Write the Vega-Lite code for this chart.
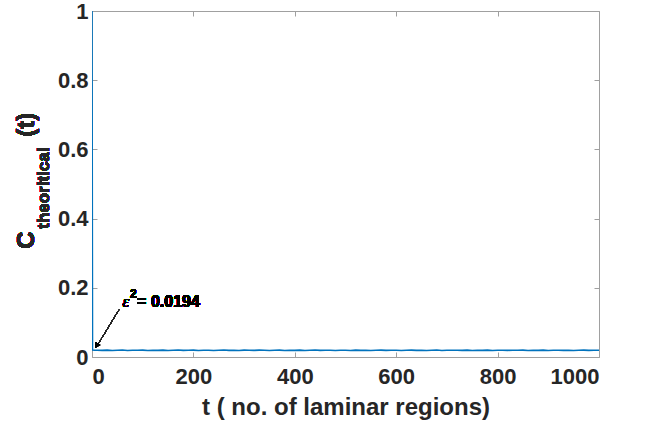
{
  "$schema": "https://vega.github.io/schema/vega-lite/v6.json",
  "width": 507,
  "height": 346,
  "autosize": {"type": "none"},
  "padding": {"left": 92, "top": 11, "right": 47, "bottom": 74},
  "background": "white",
  "config": {
    "font": "Liberation Sans",
    "view": {"stroke": null},
    "axis": {
      "domainColor": "#a0a0a0",
      "tickColor": "#a0a0a0",
      "grid": false,
      "labelFont": "Liberation Sans",
      "labelFontWeight": "bold",
      "labelFontSize": 22,
      "labelColor": "#262626",
      "titleFont": "Liberation Sans",
      "titleFontWeight": "bold",
      "titleFontSize": 24,
      "titleColor": "#262626"
    }
  },
  "data": {
    "values": [
      {"t": 0, "c": 1},
      {"t": 1, "c": 0.0201},
      {"t": 5, "c": 0.0193},
      {"t": 10, "c": 0.0196}, {"t": 20, "c": 0.0191}, {"t": 30, "c": 0.0199}, {"t": 40, "c": 0.0188}, {"t": 50, "c": 0.0195},
      {"t": 60, "c": 0.0202}, {"t": 70, "c": 0.0190}, {"t": 80, "c": 0.0197}, {"t": 90, "c": 0.0193}, {"t": 100, "c": 0.0200},
      {"t": 110, "c": 0.0189}, {"t": 120, "c": 0.0196}, {"t": 130, "c": 0.0192}, {"t": 140, "c": 0.0198}, {"t": 150, "c": 0.0187},
      {"t": 160, "c": 0.0195}, {"t": 170, "c": 0.0201}, {"t": 180, "c": 0.0191}, {"t": 190, "c": 0.0194}, {"t": 200, "c": 0.0199},
      {"t": 210, "c": 0.0190}, {"t": 220, "c": 0.0197}, {"t": 230, "c": 0.0193}, {"t": 240, "c": 0.0188}, {"t": 250, "c": 0.0196},
      {"t": 260, "c": 0.0202}, {"t": 270, "c": 0.0192}, {"t": 280, "c": 0.0195}, {"t": 290, "c": 0.0189}, {"t": 300, "c": 0.0198},
      {"t": 310, "c": 0.0194}, {"t": 320, "c": 0.0191}, {"t": 330, "c": 0.0200}, {"t": 340, "c": 0.0193}, {"t": 350, "c": 0.0187},
      {"t": 360, "c": 0.0196}, {"t": 370, "c": 0.0199}, {"t": 380, "c": 0.0190}, {"t": 390, "c": 0.0195}, {"t": 400, "c": 0.0192},
      {"t": 410, "c": 0.0198}, {"t": 420, "c": 0.0189}, {"t": 430, "c": 0.0194}, {"t": 440, "c": 0.0201}, {"t": 450, "c": 0.0191},
      {"t": 460, "c": 0.0196}, {"t": 470, "c": 0.0193}, {"t": 480, "c": 0.0188}, {"t": 490, "c": 0.0197}, {"t": 500, "c": 0.0195},
      {"t": 510, "c": 0.0190}, {"t": 520, "c": 0.0199}, {"t": 530, "c": 0.0192}, {"t": 540, "c": 0.0196}, {"t": 550, "c": 0.0189},
      {"t": 560, "c": 0.0194}, {"t": 570, "c": 0.0200}, {"t": 580, "c": 0.0191}, {"t": 590, "c": 0.0197}, {"t": 600, "c": 0.0193},
      {"t": 610, "c": 0.0188}, {"t": 620, "c": 0.0195}, {"t": 630, "c": 0.0198}, {"t": 640, "c": 0.0192}, {"t": 650, "c": 0.0196},
      {"t": 660, "c": 0.0190}, {"t": 670, "c": 0.0194}, {"t": 680, "c": 0.0201}, {"t": 690, "c": 0.0189}, {"t": 700, "c": 0.0197},
      {"t": 710, "c": 0.0193}, {"t": 720, "c": 0.0196}, {"t": 730, "c": 0.0191}, {"t": 740, "c": 0.0199}, {"t": 750, "c": 0.0187},
      {"t": 760, "c": 0.0195}, {"t": 770, "c": 0.0192}, {"t": 780, "c": 0.0198}, {"t": 790, "c": 0.0190}, {"t": 800, "c": 0.0194},
      {"t": 810, "c": 0.0197}, {"t": 820, "c": 0.0191}, {"t": 830, "c": 0.0196}, {"t": 840, "c": 0.0193}, {"t": 850, "c": 0.0200},
      {"t": 860, "c": 0.0189}, {"t": 870, "c": 0.0195}, {"t": 880, "c": 0.0192}, {"t": 890, "c": 0.0198}, {"t": 900, "c": 0.0190},
      {"t": 910, "c": 0.0194}, {"t": 920, "c": 0.0197}, {"t": 930, "c": 0.0191}, {"t": 940, "c": 0.0196}, {"t": 950, "c": 0.0188},
      {"t": 960, "c": 0.0195}, {"t": 970, "c": 0.0199}, {"t": 980, "c": 0.0192}, {"t": 990, "c": 0.0194}, {"t": 1000, "c": 0.0193}
    ]
  },
  "resolve": {"axis": {"x": "independent", "y": "independent"}},
  "layer": [
    {
      "mark": {"type": "line", "color": "#0072BD", "strokeWidth": 1.6, "clip": true},
      "encoding": {
        "x": {
          "field": "t", "type": "quantitative",
          "scale": {"domain": [0, 1000], "nice": false, "zero": false},
          "axis": {"values": [0, 200, 400, 600, 800, 1000], "format": "d", "tickSize": -5, "labelPadding": 14, "title": "t ( no. of laminar regions)", "titlePadding": 8}
        },
        "y": {
          "field": "c", "type": "quantitative",
          "scale": {"domain": [0, 1], "nice": false},
          "axis": {"values": [0, 0.2, 0.4, 0.6, 0.8, 1], "format": "~g", "tickSize": -5, "labelPadding": 9, "title": null}
        }
      }
    },
    {
      "mark": {"type": "line", "opacity": 0},
      "encoding": {
        "x": {"field": "t", "type": "quantitative", "axis": {"orient": "top", "values": [0, 200, 400, 600, 800, 1000], "tickSize": -5, "labels": false, "title": null}},
        "y": {"field": "c", "type": "quantitative", "axis": {"orient": "right", "values": [0, 0.2, 0.4, 0.6, 0.8, 1], "tickSize": -5, "labels": false, "title": null}}
      }
    },
    {
      "mark": {"type": "rule", "color": "#262626", "strokeWidth": 0.8},
      "encoding": {
        "x": {"datum": 53, "type": "quantitative", "axis": null},
        "y": {"datum": 0.136, "type": "quantitative", "axis": null},
        "x2": {"datum": 9},
        "y2": {"datum": 0.03}
      }
    },
    {
      "mark": {"type": "point", "shape": "triangle-up", "filled": true, "color": "#000000", "size": 30, "angle": 213, "opacity": 1},
      "encoding": {
        "x": {"datum": 9, "type": "quantitative", "axis": null},
        "y": {"datum": 0.033, "type": "quantitative", "axis": null}
      }
    },
    {
      "mark": {"type": "text", "text": "ε", "font": "Liberation Serif", "fontStyle": "italic", "fontSize": 17, "align": "left", "baseline": "alphabetic", "color": "#000000"},
      "encoding": {"x": {"datum": 60, "type": "quantitative", "axis": null}, "y": {"datum": 0.145, "type": "quantitative", "axis": null}}
    },
    {
      "mark": {"type": "text", "text": "2", "fontWeight": "bold", "fontSize": 12, "align": "left", "baseline": "alphabetic", "color": "#000000"},
      "encoding": {"x": {"datum": 75, "type": "quantitative", "axis": null}, "y": {"datum": 0.17, "type": "quantitative", "axis": null}}
    },
    {
      "mark": {"type": "text", "text": "= 0.0194", "fontWeight": "bold", "fontSize": 16, "align": "left", "baseline": "alphabetic", "color": "#000000"},
      "encoding": {"x": {"datum": 89, "type": "quantitative", "axis": null}, "y": {"datum": 0.145, "type": "quantitative", "axis": null}}
    },
    {
      "mark": {"type": "text", "text": "C", "fontWeight": "bold", "fontSize": 24, "angle": 270, "align": "center", "baseline": "middle", "color": "#262626"},
      "encoding": {"x": {"datum": -129, "type": "quantitative", "axis": null}, "y": {"datum": 0.338, "type": "quantitative", "axis": null}}
    },
    {
      "mark": {"type": "text", "text": "theoritical", "fontWeight": "bold", "fontSize": 17, "angle": 270, "align": "center", "baseline": "middle", "color": "#262626"},
      "encoding": {"x": {"datum": -95, "type": "quantitative", "axis": null}, "y": {"datum": 0.488, "type": "quantitative", "axis": null}}
    },
    {
      "mark": {"type": "text", "text": "(t)", "fontWeight": "bold", "fontSize": 24, "angle": 270, "align": "center", "baseline": "middle", "color": "#262626"},
      "encoding": {"x": {"datum": -129, "type": "quantitative", "axis": null}, "y": {"datum": 0.671, "type": "quantitative", "axis": null}}
    }
  ]
}
